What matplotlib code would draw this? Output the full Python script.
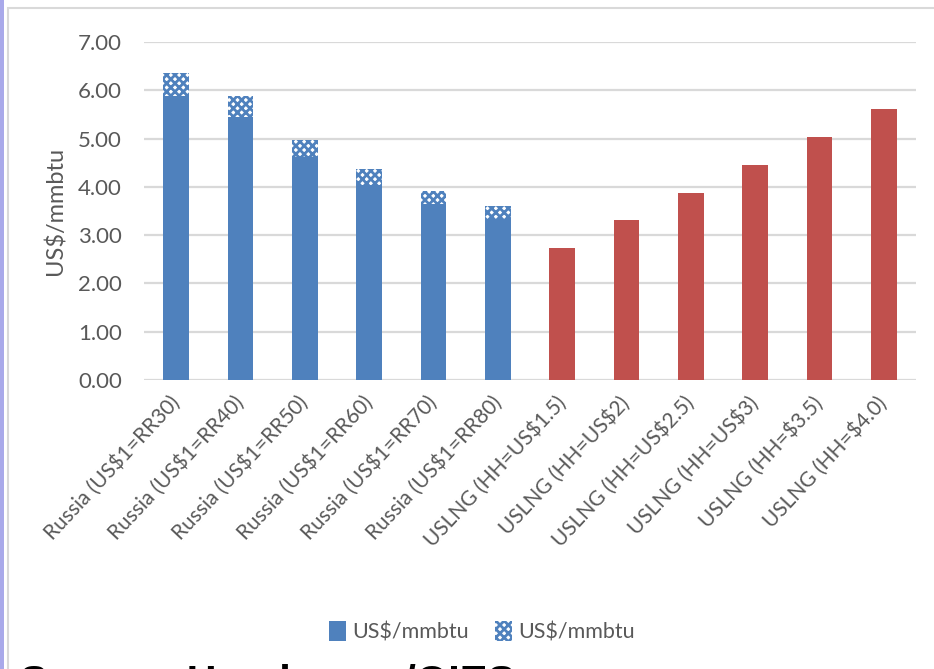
import matplotlib
matplotlib.use("Agg")
import matplotlib.pyplot as plt
from matplotlib.patches import Rectangle
import numpy as np

# Data
categories = ["Russia (US$1=RR30)", "Russia (US$1=RR40)", "Russia (US$1=RR50)",
              "Russia (US$1=RR60)", "Russia (US$1=RR70)", "Russia (US$1=RR80)",
              "USLNG (HH=US$1.5)", "USLNG (HH=US$2)", "USLNG (HH=US$2.5)",
              "USLNG (HH=US$3)", "USLNG (HH=$3.5)", "USLNG (HH=$4.0)"]
russia_base = [5.88, 5.44, 4.61, 4.04, 3.64, 3.33]
russia_extra = [0.48, 0.44, 0.36, 0.32, 0.28, 0.27]
uslng = [2.73, 3.31, 3.87, 4.45, 5.03, 5.61]
y_ticks = [0, 1, 2, 3, 4, 5, 6, 7]

blue = "#4F81BD"
red = "#C0504D"
grey_text = "#595959"

plt.rcParams['font.family'] = ['Lato', 'DejaVu Sans']
plt.rcParams['hatch.linewidth'] = 2.0

fig = plt.figure(figsize=(9.34, 6.69), dpi=100)

# chart frame and left stripe
fig.patches.append(Rectangle((0, 0), 4 / 934, 1, transform=fig.transFigure,
                             facecolor="#a9a9ea", edgecolor="none"))
fig.patches.append(Rectangle((8 / 934, -0.1), 1.1, 1 - 8 / 669 + 0.1, transform=fig.transFigure,
                             facecolor="none", edgecolor="#d9d9d9", linewidth=1.5))

ax = fig.add_axes([144 / 934, 1 - 380 / 669, (916 - 144) / 934, (380 - 42) / 669])

x = np.arange(len(categories))
n_r = len(russia_base)
width = 0.40

ax.bar(x[:n_r], russia_base, width, color=blue, zorder=3, label="US$/mmbtu")
ax.bar(x[:n_r], russia_extra, width, bottom=russia_base, facecolor="white",
       edgecolor=blue, hatch="xxxx", linewidth=0, zorder=3, label="US$/mmbtu")
ax.bar(x[n_r:], uslng, width, color=red, zorder=3)

ax.set_xlim(-0.5, len(categories) - 0.5)
ax.set_ylim(0, 7)
ax.set_yticks(y_ticks)
ax.set_yticklabels([f"{v:.2f}" for v in y_ticks], fontsize=16, color=grey_text)
ax.yaxis.grid(True, color="#d9d9d9", linewidth=1.6, zorder=0)
ax.set_axisbelow(True)
for s in ax.spines.values():
    s.set_visible(False)
ax.tick_params(axis="y", length=0, pad=16)
ax.tick_params(axis="x", length=0, pad=14)

ax.set_xticks(x)
ax.set_xticklabels(categories, rotation=47, ha="right", va="center",
                   rotation_mode="anchor", fontsize=15, color=grey_text)

ax.set_ylabel("US$/mmbtu", fontsize=17, color=grey_text, labelpad=8)

ax.legend(loc="center", bbox_to_anchor=(482 / 934, 1 - 632 / 669),
          bbox_transform=fig.transFigure, ncol=2, frameon=False,
          fontsize=15.5, labelcolor=grey_text, handlelength=0.8, handleheight=1.0,
          handletextpad=0.3, columnspacing=1.2)

fig.text(20 / 934, -26 / 669, "Source: Henderson/OIES", fontsize=30, fontweight="bold",
         family="Liberation Sans", color="black", va="baseline", ha="left")

fig.savefig("out.png", dpi=100)
